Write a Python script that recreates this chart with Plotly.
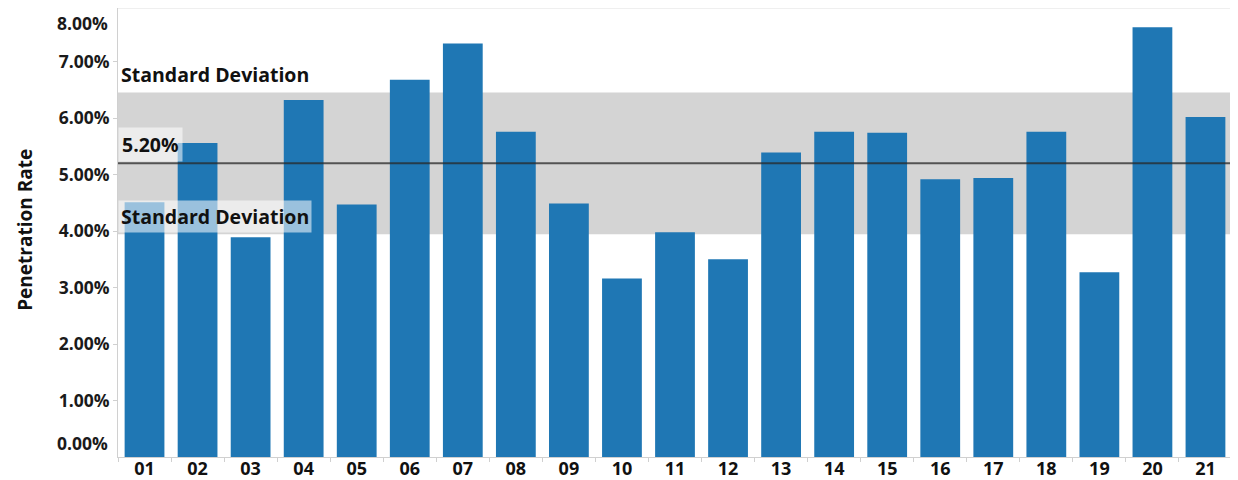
import plotly.graph_objects as go

categories = ["01", "02", "03", "04", "05", "06", "07", "08", "09", "10", "11",
              "12", "13", "14", "15", "16", "17", "18", "19", "20", "21"]
penetration = [0.0451, 0.0556, 0.0389, 0.0632, 0.0447, 0.0668, 0.0732, 0.0576,
               0.0449, 0.0316, 0.0398, 0.0350, 0.0539, 0.0576, 0.0574, 0.0492,
               0.0494, 0.0576, 0.0327, 0.0761, 0.0602]
mean_rate = 0.0520
std_dev = 0.01255
y_ticks = [0.01, 0.02, 0.03, 0.04, 0.05, 0.06, 0.07]

FONT = "Open Sans"
BLUE = "#1f77b4"

fig = go.Figure()
fig.add_trace(go.Bar(x=categories, y=penetration, marker=dict(color=BLUE, line=dict(width=0)),
                     hovertemplate="%{x}: %{y:.2%}<extra></extra>"))

# standard deviation band and average line
fig.add_hrect(y0=mean_rate - std_dev, y1=mean_rate + std_dev, fillcolor="#d4d4d4",
              line_width=0, layer="below")
fig.add_hline(y=mean_rate, line=dict(color="rgba(40,40,40,0.75)", width=2), layer="above")

label_font = dict(family=FONT, size=19.5, color="#111111")
fig.add_annotation(x=0, xref="paper", y=mean_rate + std_dev, yref="y", yanchor="bottom",
                   xanchor="left", text="<b>Standard Deviation</b>", showarrow=False,
                   font=label_font, bgcolor="rgba(255,255,255,0.6)", borderpad=2, yshift=1)
fig.add_annotation(x=0, xref="paper", y=mean_rate - std_dev, yref="y", yanchor="bottom",
                   xanchor="left", text="<b>Standard Deviation</b>", showarrow=False,
                   font=label_font, bgcolor="rgba(255,255,255,0.55)", borderpad=2, yshift=1)
fig.add_annotation(x=0, xref="paper", y=mean_rate, yref="y", yanchor="bottom",
                   xanchor="left", text="<b>5.20%</b>", showarrow=False,
                   font=label_font, bgcolor="rgba(255,255,255,0.55)", borderpad=3, yshift=1)

# end tick labels pulled inside the axis, the way the original tool draws them
tick_font = dict(family=FONT, size=17.5, color="#1a1a1a")
fig.add_annotation(x=0, xref="paper", y=0, yref="y", xanchor="right", yanchor="middle",
                   text="<b>0.00%</b>", showarrow=False, font=tick_font, xshift=-8, yshift=14)
fig.add_annotation(x=0, xref="paper", y=1, yref="paper", xanchor="right", yanchor="middle",
                   text="<b>8.00%</b>", showarrow=False, font=tick_font, xshift=-8, yshift=-15)

fig.add_annotation(x=0, xref="paper", y=0.506, yref="paper", xanchor="left", xshift=-108,
                   text="<b>Penetration Rate</b>", textangle=-90, showarrow=False,
                   font=dict(family=FONT, size=19, color="#111111"))

# page body adds an 8px offset, so the figure is sized to the visible area
fig.update_layout(
    width=1230, height=472,
    margin=dict(l=110, r=6, t=0, b=23),
    plot_bgcolor="white", paper_bgcolor="white",
    bargap=0.25, showlegend=False,
    font=dict(family=FONT, color="#111111"),
)
fig.update_xaxes(
    type="category", showgrid=False, showline=True, linecolor="#d0d0d0", mirror=False,
    ticks="outside", ticklen=4, tickcolor="#d0d0d0", tickson="boundaries",
    tickfont=dict(family=FONT, size=18, color="#111111"), ticklabelstandoff=-5,
    tickprefix="<b>", ticksuffix="</b>", automargin=False,
)
fig.update_yaxes(
    range=[0, 0.0795], showgrid=False, zeroline=False, showline=True, linecolor="#d0d0d0",
    ticks="outside", ticklen=4, tickcolor="#d0d0d0", tickvals=y_ticks,
    ticktext=[f"<b>{v * 100:.2f}%</b>" for v in y_ticks], tickfont=tick_font,
    automargin=False,
)
# light frame on top and right
fig.add_shape(type="line", xref="paper", yref="paper", x0=0, x1=1, y0=1, y1=1,
              line=dict(color="#e0e0e0", width=1))
fig.add_shape(type="line", xref="paper", yref="paper", x0=1, x1=1, y0=0, y1=1,
              line=dict(color="#e0e0e0", width=1))

fig.write_html("out.html")
